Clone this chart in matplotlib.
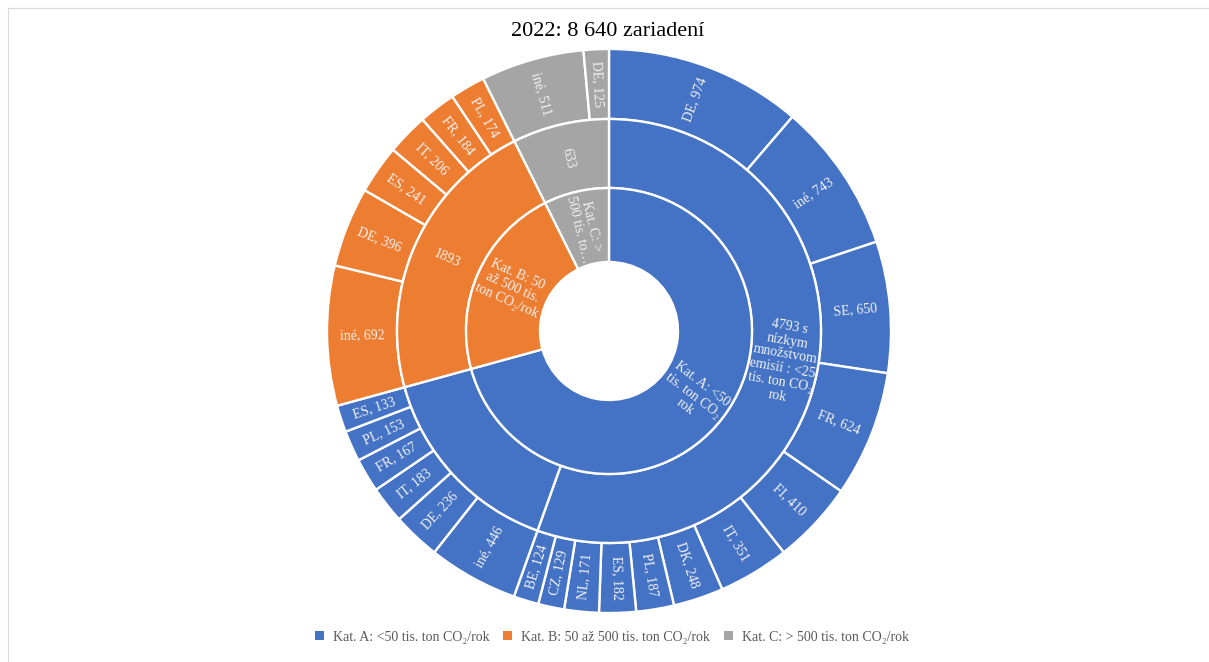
import matplotlib
matplotlib.use("Agg")
import matplotlib.pyplot as plt
from matplotlib.patches import Patch, Rectangle
import numpy as np

plt.rcParams["font.family"] = ["Liberation Serif", "DejaVu Serif"]

W, H, DPI = 1209, 662, 100

TITLE = "2022: 8 640 zariadení"
CATEGORIES = ["Kat. A: <50 tis. ton CO₂/rok",
              "Kat. B: 50 až 500 tis. ton CO₂/rok",
              "Kat. C: > 500 tis. ton CO₂/rok"]
CAT_LABELS = ["Kat. A: <50\ntis. ton CO₂\nrok",
              "Kat. B: 50\naž 500 tis.\nton CO₂/rok",
              "Kat. C: >\n500 tis. to…"]
COLORS = ["#4472C4", "#ED7D31", "#A5A5A5"]

# middle ring groups
GROUP_CAT = [0, 0, 1, 2]
GROUP_LABELS = ["4793 s\nnízkym\nmnožstvom\nemisií : <25\ntis. ton CO₂\nrok",
                "", "1893", "633"]

# outer ring (countries) per group
A1_COUNTRIES = ["DE", "iné", "SE", "FR", "FI", "IT", "DK", "PL", "ES", "NL", "CZ", "BE"]
A1_VALUES = [974, 743, 650, 624, 410, 351, 248, 187, 182, 171, 129, 124]
A2_COUNTRIES = ["iné", "DE", "IT", "FR", "PL", "ES"]
A2_VALUES = [446, 236, 183, 167, 153, 133]
B_COUNTRIES = ["iné", "DE", "ES", "IT", "FR", "PL"]
B_VALUES = [692, 396, 241, 206, 184, 174]
C_COUNTRIES = ["iné", "DE"]
C_VALUES = [511, 125]

GROUP_COUNTRIES = [A1_COUNTRIES, A2_COUNTRIES, B_COUNTRIES, C_COUNTRIES]
GROUP_VALUES = [A1_VALUES, A2_VALUES, B_VALUES, C_VALUES]

# derived ring data
outer_vals, outer_labels, outer_cols = [], [], []
mid_vals, mid_cols = [], []
for g, (cs, vs) in enumerate(zip(GROUP_COUNTRIES, GROUP_VALUES)):
    col = COLORS[GROUP_CAT[g]]
    for c, v in zip(cs, vs):
        outer_vals.append(v)
        outer_labels.append(f"{c}, {v}")
        outer_cols.append(col)
    mid_vals.append(sum(vs))
    mid_cols.append(col)
inner_vals = [sum(v for v, c in zip(mid_vals, GROUP_CAT) if c == k) for k in range(3)]

fig = plt.figure(figsize=(W / DPI, H / DPI), dpi=DPI)
fig.patch.set_facecolor("white")

# chart-area border
fig.add_artist(Rectangle((8 / W, -0.02), 1.1, 1 - 8 / H + 0.02, transform=fig.transFigure,
                         fill=False, edgecolor="#D9D9D9", linewidth=0.8))

R_PX = 282
CX, CY = 609, 331
ax = fig.add_axes([(CX - R_PX) / W, (H - CY - R_PX) / H, 2 * R_PX / W, 2 * R_PX / H])

R_OUT, R_MID, R_IN, R_HOLE = 1.0, 212 / 282, 143 / 282, 69 / 282

def ring(vals, cols, r_outer, r_inner):
    wedges, _ = ax.pie(vals, radius=r_outer, startangle=90, counterclock=False,
                       colors=cols,
                       wedgeprops=dict(width=r_outer - r_inner, edgecolor="white", linewidth=1.7))
    return wedges

def label(wedges, labels, r_outer, r_inner, fs=10):
    rm = (r_outer + r_inner) / 2
    for w, t in zip(wedges, labels):
        if not t:
            continue
        mid = (w.theta1 + w.theta2) / 2
        th = np.deg2rad(mid)
        rot = mid % 360
        if 90 < rot <= 270:
            rot -= 180
        elif rot > 270:
            rot -= 360
        ax.text(rm * np.cos(th), rm * np.sin(th), t, rotation=rot, rotation_mode="anchor",
                ha="center", va="center", fontsize=fs, color="#F2F2F2", linespacing=1.1)

w_out = ring(outer_vals, outer_cols, R_OUT, R_MID)
w_mid = ring(mid_vals, mid_cols, R_MID, R_IN)
w_in = ring(inner_vals, COLORS, R_IN, R_HOLE)

label(w_out, outer_labels, R_OUT, R_MID)
label(w_mid, GROUP_LABELS, R_MID, R_IN)
label(w_in, CAT_LABELS, R_IN, R_HOLE)

ax.set_xlim(-1, 1)
ax.set_ylim(-1, 1)
ax.axis("off")

fig.text(608 / W, 1 - 32 / H, TITLE, ha="center", va="center", fontsize=16, color="black")

handles = [Patch(facecolor=c, edgecolor="none") for c in COLORS]
fig.legend(handles, CATEGORIES, loc="center", bbox_to_anchor=(612 / W, 1 - 637 / H),
           ncol=3, frameon=False, fontsize=10, handlelength=0.65, handleheight=0.65,
           handletextpad=0.65, columnspacing=1.0, labelcolor="#595959")

fig.savefig("out.png", dpi=DPI)
